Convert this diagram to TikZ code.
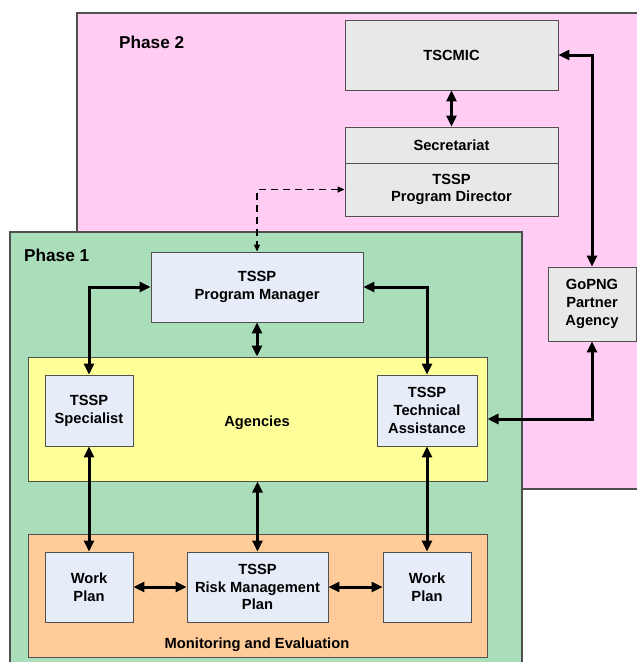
\documentclass[tikz,border=0pt]{standalone}
\usepackage{fontspec}
\setmainfont{Liberation Sans}
\usetikzlibrary{arrows.meta}
\definecolor{pinkbg}{HTML}{FFCCF4}
\definecolor{greenbg}{HTML}{AADDBA}
\definecolor{yellowbg}{HTML}{FFFF99}
\definecolor{orangebg}{HTML}{FFCC99}
\definecolor{bluebox}{HTML}{E6ECF8}
\definecolor{graybox}{HTML}{E8E8E8}
\definecolor{edge}{HTML}{505050}
\tikzset{
  phase/.style={draw=edge, line width=1.2pt},
  box/.style={draw=edge, line width=0.9pt, fill=bluebox, align=center, inner sep=0pt,
    font=\fontsize{14.7}{17.8}\selectfont\bfseries},
  gbox/.style={box, fill=graybox},
  region/.style={draw=edge, line width=1pt, inner sep=0pt},
  lbl/.style={font=\fontsize{14.7}{17.8}\selectfont\bfseries, inner sep=0pt},
  plbl/.style={font=\fontsize{17.2}{20}\selectfont\bfseries, inner sep=0pt, anchor=west},
  link/.style={line width=3pt, {Triangle[length=11pt,width=10pt]}-{Triangle[length=11pt,width=10pt]}},
  dlink/.style={line width=1.4pt, dash pattern=on 7pt off 5pt, {Triangle[length=7pt,width=6pt]}-{Triangle[length=7pt,width=6pt]}}
}
\begin{document}
\begin{tikzpicture}[x=1pt,y=-1pt]
\useasboundingbox (0,0) rectangle (637,662);
% Phase 2 region
\fill[pinkbg] (77,13) rectangle (640,489);
\draw[phase] (640,13) -- (77,13) -- (77,489) -- (640,489);
\node[plbl] (p2) at (119,42) {Phase 2};
% Phase 2 boxes
\node[gbox, minimum width=213pt, minimum height=70pt] (tscmic) at (451.5,55) {TSCMIC};
\node[gbox, minimum width=213pt, minimum height=36pt] (secr) at (451.5,145) {Secretariat};
\node[gbox, minimum width=213pt, minimum height=53pt] (dir) at (451.5,189.5) {TSSP\\Program Director};
\node[gbox, minimum width=88pt, minimum height=74pt] (gopng) at (592,304) {GoPNG\\Partner\\Agency};
% Phase 1 region
\fill[greenbg] (10,232) rectangle (522,666);
\draw[phase] (10,666) -- (10,232) -- (522,232) -- (522,666);
\node[plbl] (p1) at (24,255) {Phase 1};
\node[box, minimum width=212pt, minimum height=70pt] (pm) at (257,287) {TSSP\\Program Manager};
% Agencies region
\node[region, fill=yellowbg, minimum width=459pt, minimum height=124pt] (ag) at (257.5,419) {};
\node[lbl] (aglbl) at (257,423) {Agencies};
\node[box, minimum width=88pt, minimum height=71pt] (spec) at (89,410.5) {TSSP\\Specialist};
\node[box, minimum width=100pt, minimum height=71pt] (ta) at (427,410.5) {TSSP\\Technical\\Assistance};
% Monitoring region
\node[region, fill=orangebg, minimum width=459pt, minimum height=123pt] (me) at (257.5,595.5) {};
\node[lbl] (melbl) at (257,645) {Monitoring and Evaluation};
\node[box, minimum width=88pt, minimum height=70pt] (wp1) at (89,587) {Work\\Plan};
\node[box, minimum width=141pt, minimum height=70pt] (rmp) at (257.5,587) {TSSP\\Risk Management\\Plan};
\node[box, minimum width=88pt, minimum height=70pt] (wp2) at (427,587) {Work\\Plan};
% connectors
\draw[link] (tscmic.south) -- (secr.north);
\draw[link] (tscmic.east) -| (gopng.north);
\draw[link] (gopng.south) |- (ag.east);
\draw[dlink] (dir.west) -| (pm.north);
\draw[link] (pm.west) -| (spec.north);
\draw[link] (pm.east) -| (ta.north);
\draw[link] (pm.south) -- (pm.south |- ag.north);
\draw[link] (spec.south) -- (wp1.north);
\draw[link] (rmp.north |- ag.south) -- (rmp.north);
\draw[link] (ta.south) -- (wp2.north);
\draw[link] (wp1.east) -- (rmp.west);
\draw[link] (rmp.east) -- (wp2.west);
\end{tikzpicture}
\end{document}
